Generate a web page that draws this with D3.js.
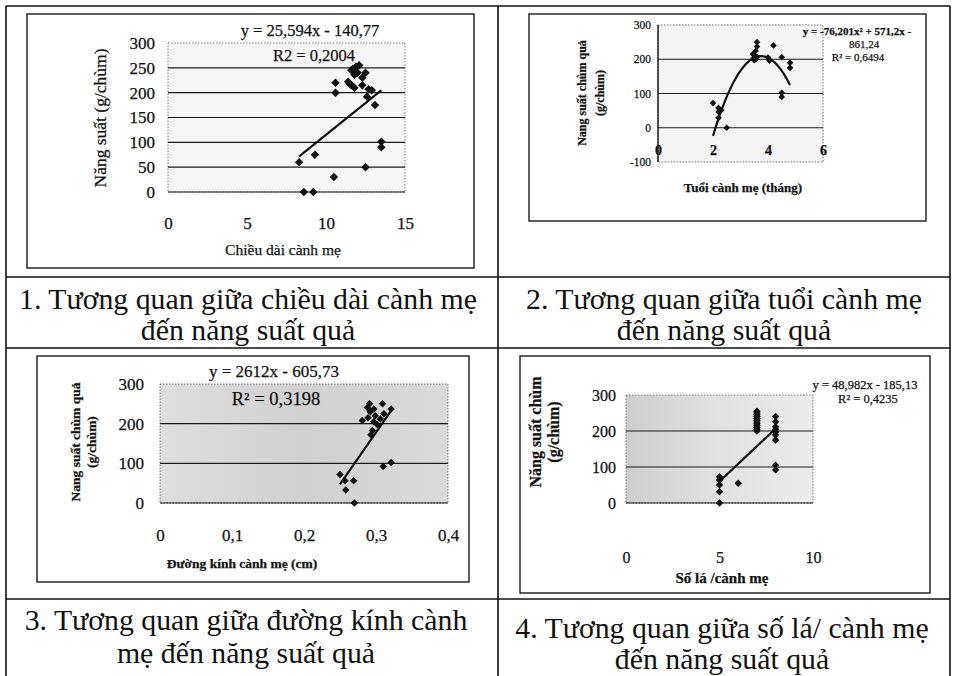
<!DOCTYPE html>
<html><head><meta charset="utf-8">
<script src="https://cdn.jsdelivr.net/npm/d3@7"></script>
<style>body{margin:0;background:#fff} svg{display:block}</style>
</head><body>
<svg id="c" width="953" height="676"></svg>
<script>
// ---------- DATA ----------
// Chart 1: chiều dài cành mẹ vs năng suất
const c1Len   = [8.3, 9.3, 8.6, 9.2, 10.5, 12.5, 10.6, 10.6, 11.6, 11.9, 12.1, 11.8, 11.4, 11.6, 11.8, 12.3, 12.5, 12.3, 12.7, 12.9, 12.6, 13.1, 13.5, 13.5, 11.7, 12.0, 11.5];
const c1Yield = [60, 75, 0, 0, 30, 50, 220, 200, 245, 252, 255, 236, 222, 215, 210, 230, 240, 215, 207, 205, 192, 175, 101, 90, 248, 240, 218];
const c1Fit = [25.594, -140.77];           // slope, intercept
const c1XTicks = [0, 5, 10, 15];
const c1YTicks = [0, 50, 100, 150, 200, 250, 300];
const c1EqText = ["y = 25,594x - 140,77", "R2 = 0,2004"];

// Chart 2: tuổi cành mẹ vs năng suất
const c2Age   = [2.0, 2.2, 2.3, 2.2, 2.2, 2.5, 3.6, 3.6, 3.55, 3.5, 3.5, 3.5, 3.6, 4.2, 4.0, 4.05, 4.5, 4.8, 4.8, 4.5, 4.5, 3.45, 3.55];
const c2Yield = [72, 58, 51, 46, 29, 0, 250, 237, 224, 213, 205, 197, 207, 240, 205, 196, 206, 190, 175, 102, 90, 215, 200];
const c2Fit = [-76.201, 571.2, -861.24];   // a, b, c of ax²+bx+c
const c2XTicks = [0, 2, 4, 6];
const c2YTicks = [-100, 0, 100, 200, 300];
const c2EqText = ["y = -76,201x² + 571,2x -", "861,24", "R² = 0,6494"];

// Chart 3: đường kính cành mẹ vs năng suất
const c3Dia   = [0.25, 0.257, 0.269, 0.258, 0.27, 0.288, 0.297, 0.309, 0.321, 0.291, 0.281, 0.289, 0.297, 0.299, 0.306, 0.311, 0.295, 0.293, 0.302, 0.31, 0.321, 0.292];
const c3Yield = [72, 56, 56, 33, 0, 241, 237, 250, 237, 250, 208, 215, 205, 220, 212, 225, 183, 172, 197, 92, 102, 230];
const c3Fit = [2612, -605.73];
const c3XTicks = [0, 0.1, 0.2, 0.3, 0.4];
const c3YTicks = [0, 100, 200, 300];
const c3EqText = ["y = 2612x - 605,73", "R² = 0,3198"];

// Chart 4: số lá / cành mẹ vs năng suất
const c4Leaves = [5, 5, 5, 5, 5, 6, 7, 7, 7, 7, 7, 7, 7, 7, 7, 7, 7, 7, 8, 8, 8, 8, 8, 8, 8, 8, 8];
const c4Yield  = [0, 31, 50, 64, 73, 55, 200, 205, 210, 215, 220, 225, 230, 235, 240, 245, 250, 255, 240, 226, 212, 205, 198, 189, 175, 105, 92];
const c4Fit = [48.982, -185.13];
const c4XTicks = [0, 5, 10];
const c4YTicks = [0, 100, 200, 300];
const c4EqText = ["y = 48,982x - 185,13", "R² = 0,4235"];

const captions = [
  ["1. Tương quan giữa chiều dài cành mẹ", "đến năng suất quả"],
  ["2. Tương quan giữa tuổi cành mẹ", "đến năng suất quả"],
  ["3. Tương quan giữa đường kính cành", "mẹ đến năng suất quả"],
  ["4. Tương quan giữa số lá/ cành mẹ", "đến năng suất quả"]
];

// ---------- DRAWING ----------
const svg = d3.select('#c');
const SERIF = "'Liberation Serif','Times New Roman',serif";
const comma = d => String(d).replace('.', ',');
const INK = '#111';

const defs = svg.append('defs');
const grad = defs.append('linearGradient').attr('id', 'g4').attr('x1', 0).attr('x2', 1).attr('y1', 0).attr('y2', 0);
grad.append('stop').attr('offset', 0).attr('stop-color', '#cdcdcd');
grad.append('stop').attr('offset', 0.45).attr('stop-color', '#e0e0e0');
grad.append('stop').attr('offset', 1).attr('stop-color', '#ebebeb');
const grad3 = defs.append('linearGradient').attr('id', 'g3').attr('x1', 0).attr('x2', 1).attr('y1', 0).attr('y2', 0);
grad3.append('stop').attr('offset', 0).attr('stop-color', '#dedede');
grad3.append('stop').attr('offset', 0.5).attr('stop-color', '#d0d0d0');
grad3.append('stop').attr('offset', 1).attr('stop-color', '#dadada');

// table
const T = {l: 6, r: 950, mid: 498, rows: [6, 277, 348, 599]};
const tg = svg.append('g').attr('stroke', INK).attr('stroke-width', 1.6);
T.rows.forEach(yv => tg.append('line').attr('x1', T.l).attr('x2', T.r).attr('y1', yv).attr('y2', yv));
[T.l, T.mid, T.r].forEach(xv => tg.append('line').attr('x1', xv).attr('x2', xv).attr('y1', T.rows[0]).attr('y2', 676));

function txt(sel, size, bold) {
  return sel.attr('font-family', SERIF).attr('font-size', size).attr('font-weight', bold ? 'bold' : 'normal')
    .attr('fill', INK).attr('stroke', INK).attr('stroke-width', 0.25);
}

function drawChart(o) {
  const g = svg.append('g');
  const [fx0, fy0, fx1, fy1] = o.frame;
  g.append('rect').attr('x', fx0).attr('y', fy0).attr('width', fx1 - fx0).attr('height', fy1 - fy0)
    .attr('fill', '#fff').attr('stroke', '#1a1a1a').attr('stroke-width', 1.4);
  const x = d3.scaleLinear().domain(o.xDomain).range(o.xRange);
  const y = d3.scaleLinear().domain(o.yDomain).range(o.yRange);
  const px0 = x(o.xDomain[0]), px1 = x(o.xDomain[1]);
  const py0 = y(o.yDomain[1]), py1 = y(o.yDomain[0]);
  g.append('rect').attr('x', px0).attr('y', py0).attr('width', px1 - px0).attr('height', py1 - py0)
    .attr('fill', o.plotFill).attr('stroke', '#777').attr('stroke-width', 1).attr('stroke-dasharray', '1.5,1.5');
  g.append('g').selectAll('line').data(o.grid).join('line')
    .attr('x1', px0).attr('x2', px1).attr('y1', d => y(d)).attr('y2', d => y(d))
    .attr('stroke', '#1a1a1a').attr('stroke-width', 1.1);
  if (o.yAxisLine) {
    g.append('line').attr('x1', x(0)).attr('x2', x(0)).attr('y1', py0).attr('y2', py1)
      .attr('stroke', INK).attr('stroke-width', 1.4);
  }
  // y axis labels
  const ya = g.append('g').attr('transform', `translate(${px0},0)`)
    .call(d3.axisLeft(y).tickValues(o.yTicks).tickSize(0).tickPadding(o.yPad).tickFormat(comma));
  ya.select('.domain').remove();
  txt(ya.selectAll('text'), o.yFont, o.yBold);
  // x axis labels
  const xa = g.append('g').attr('transform', `translate(0,${o.xLabelY})`)
    .call(d3.axisBottom(x).tickValues(o.xTicks).tickSize(0).tickPadding(0).tickFormat(comma));
  xa.select('.domain').remove();
  txt(xa.selectAll('text').attr('y', 0).attr('dy', '0.35em'), o.xFont, o.xBold);
  // trendline
  const xs = o.xs, ys = o.ys;
  const [xmin, xmax] = d3.extent(xs);
  const f = v => o.fit.reduce((acc, c) => acc * v + c, 0);
  const tx = d3.range(0, 41).map(i => xmin + (xmax - xmin) * i / 40);
  g.append('path').datum(tx).attr('fill', 'none').attr('stroke', INK).attr('stroke-width', 2.2)
    .attr('d', d3.line().x(d => x(d)).y(d => y(f(d))));
  // points
  g.append('g').selectAll('path').data(d3.range(xs.length)).join('path')
    .attr('d', d3.symbol(d3.symbolSquare, o.ptSize))
    .attr('transform', i => `translate(${x(xs[i])},${y(ys[i])}) rotate(45)`)
    .attr('fill', INK);
  // titles
  txt(g.append('text').attr('x', o.xTitle[1]).attr('y', o.xTitle[2]).attr('dy', '0.35em')
    .attr('text-anchor', 'middle'), o.xTitle[3], o.titleBold).text(o.xTitle[0]);
  o.yTitle.lines.forEach((t, i) => {
    txt(g.append('text').attr('transform', `translate(${o.yTitle.xs[i]},${o.yTitle.cy}) rotate(-90)`)
      .attr('dy', '0.35em').attr('text-anchor', 'middle'), o.yTitle.size, o.titleBold).text(t);
  });
  o.eq.forEach(e => {
    txt(g.append('text').attr('x', e[1]).attr('y', e[2]).attr('dy', '0.35em').attr('text-anchor', 'middle'),
      e[3], e[4]).text(e[0]);
  });
}

drawChart({
  frame: [27, 14, 474, 268], xDomain: [0, 15], xRange: [168, 405], yDomain: [0, 300], yRange: [192, 43],
  plotFill: '#f6f6f6', grid: [0, 50, 100, 150, 200, 250],
  yTicks: c1YTicks, yPad: 13, yFont: 17, xTicks: c1XTicks, xLabelY: 223, xFont: 17,
  xs: c1Len, ys: c1Yield, fit: c1Fit, ptSize: 36,
  xTitle: ["Chiều dài cành mẹ", 283, 250, 15.5], titleBold: false,
  yTitle: {lines: ["Năng suất (g/chùm)"], xs: [100], cy: 118, size: 17.5},
  eq: [[c1EqText[0], 310, 30, 16.5], [c1EqText[1], 314, 55, 16.5]]
});

drawChart({
  frame: [529, 14, 926, 221], xDomain: [0, 6], xRange: [658, 823], yDomain: [-100, 300], yRange: [162, 25],
  plotFill: '#f4f4f4', grid: [0, 100, 200], yAxisLine: true,
  yTicks: c2YTicks, yPad: 7, yFont: 11.5, xTicks: c2XTicks, xLabelY: 150, xFont: 14, xBold: true,
  xs: c2Age, ys: c2Yield, fit: c2Fit, ptSize: 22,
  xTitle: ["Tuổi cành mẹ (tháng)", 743, 187, 13], titleBold: true,
  yTitle: {lines: ["Nang suất chùm quả", "(g/chùm)"], xs: [582, 600], cy: 93, size: 12},
  eq: [[c2EqText[0], 857, 31, 11, true], [c2EqText[1], 864, 44, 11, false], [c2EqText[2], 858, 57, 11, false]]
});

drawChart({
  frame: [37, 356, 469, 582], xDomain: [0, 0.4], xRange: [160, 448], yDomain: [0, 300], yRange: [503, 384],
  plotFill: 'url(#g3)', grid: [0, 100, 200],
  yTicks: c3YTicks, yPad: 16, yFont: 17, xTicks: c3XTicks, xLabelY: 535, xFont: 17,
  xs: c3Dia, ys: c3Yield, fit: c3Fit, ptSize: 28,
  xTitle: ["Đường kính cành mẹ (cm)", 242, 563, 13.5], titleBold: true,
  yTitle: {lines: ["Nang suất chùm quả", "(g/chùm)"], xs: [75, 91], cy: 442, size: 13.5},
  eq: [[c3EqText[0], 274, 371, 17], [c3EqText[1], 276, 399, 18.5]]
});

drawChart({
  frame: [520, 356, 930, 593], xDomain: [0, 10], xRange: [626, 813], yDomain: [0, 300], yRange: [503, 395],
  plotFill: 'url(#g4)', grid: [0, 100, 200],
  yTicks: c4YTicks, yPad: 10, yFont: 16, xTicks: c4XTicks, xLabelY: 557, xFont: 16,
  xs: c4Leaves, ys: c4Yield, fit: c4Fit, ptSize: 28,
  xTitle: ["Số lá /cành mẹ", 722, 578, 15], titleBold: true,
  yTitle: {lines: ["Năng suất chùm", "(g/chùm)"], xs: [535, 553], cy: 432, size: 16},
  eq: [[c4EqText[0], 865, 385, 12.5], [c4EqText[1], 868, 399, 12.5]]
});

// captions (font size fitted so that caption 1 spans its cell like the reference)
const capPos = [
  {cx: 248, ys: [299, 330]}, {cx: 724, ys: [299, 330]},
  {cx: 246, ys: [620, 653]}, {cx: 722, ys: [628, 659]}
];
const probe = svg.append('text').attr('font-family', SERIF).attr('font-size', 30).text(captions[0][0]);
const capSize = 30 * 458 / probe.node().getComputedTextLength();
probe.remove();
captions.forEach((lines, k) => {
  lines.forEach((t, i) => {
    svg.append('text').attr('x', capPos[k].cx).attr('y', capPos[k].ys[i]).attr('dy', '0.35em')
      .attr('text-anchor', 'middle').attr('font-family', SERIF).attr('font-size', capSize)
      .attr('fill', INK).text(t);
  });
});
</script>
</body></html>
